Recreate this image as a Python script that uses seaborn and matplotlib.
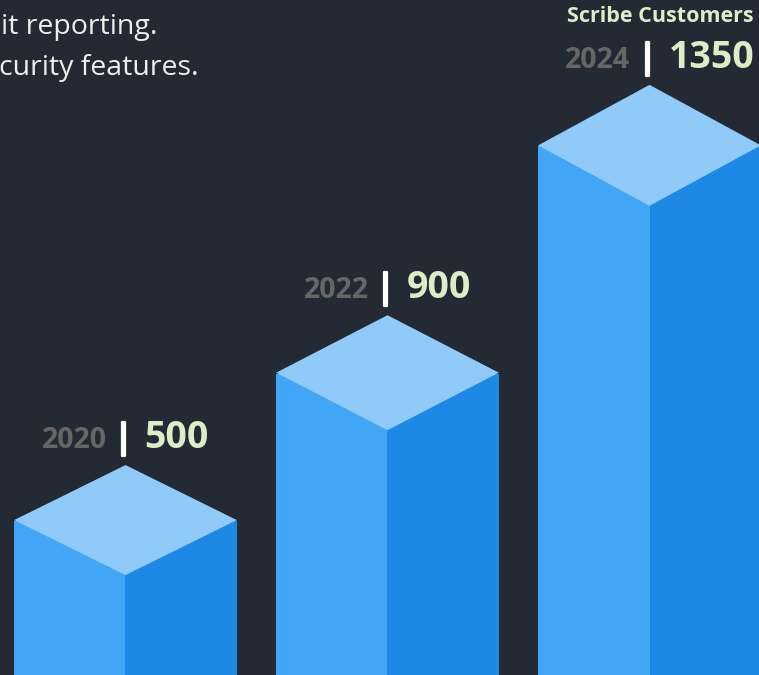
import numpy as np
import pandas as pd
import matplotlib
matplotlib.use("Agg")
import matplotlib.pyplot as plt
import matplotlib.patheffects as pe
import seaborn as sns
from matplotlib.patches import Polygon

# ---------------- data ----------------
years = ["2020", "2022", "2024"]
customers = [500, 900, 1350]
series_title = "Scribe Customers"
intro_lines = ["it reporting.", "curity features."]

# ---------------- style ----------------
BG = "#232a33"
TOP_C = "#90caf9"
LEFT_C = "#42a5f5"
RIGHT_C = "#1e88e5"
YEAR_C = "#666666"
NUM_C = "#dcedc8"
TEXT_C = "#eeeeee"

sns.set_theme(style="dark", rc={"axes.facecolor": BG, "figure.facecolor": BG})
plt.rcParams["font.family"] = ["Open Sans", "DejaVu Sans"]

W, H = 759, 675
fig = plt.figure(figsize=(W / 100, H / 100), dpi=100)
ax = fig.add_axes([0, 0, 1, 1])

# value -> pixel mapping uses a power scale
P = 1.67
K = 2.70e-3          # pixels per scaled unit
PX0 = 13.1           # pixel height of value 0 above bottom


def fwd(v):
    v = np.asarray(v, dtype=float)
    return np.sign(v) * np.abs(v) ** P


def inv(u):
    u = np.asarray(u, dtype=float)
    return np.sign(u) * np.abs(u) ** (1.0 / P)


df = pd.DataFrame({
    "year": years * 2,
    "customers": customers * 2,
    "face": ["left"] * len(years) + ["right"] * len(years),
})

BAR_W = 0.85
sns.barplot(data=df, x="year", y="customers", hue="face",
            palette={"left": LEFT_C, "right": RIGHT_C},
            width=BAR_W, gap=0, dodge=True, errorbar=None,
            saturation=1, linewidth=0, legend=False, ax=ax)

ax.set_yscale("function", functions=(fwd, inv))
y_lo = float(inv((0 - PX0) / K))
y_hi = float(inv((H - PX0) / K))
ax.set_ylim(y_lo, y_hi)
unit = 262.0
x0 = 125.5
ax.set_xlim(-x0 / unit, (W - x0) / unit)
ax.set_axis_off()
fig.patch.set_facecolor(BG)


def to_px(x, y):
    X, Y = ax.transData.transform((x, y))
    return X, H - Y


def to_data(X, Yt):
    return ax.transData.inverted().transform((X, H - Yt))


DEPTH = [55, 57.5, 60.5]

# extend each side face down past the bottom edge and up to the top face's side corners
for cont in ax.containers:
    for i, p in enumerate(cont.patches):
        val = p.get_y() + p.get_height()
        cx, F = to_px(i, val)
        top = to_data(cx, F - DEPTH[i] + 1)[1]
        p.set_y(y_lo - 50)
        p.set_height(top - (y_lo - 50))

for i, (yr, val) in enumerate(zip(years, customers)):
    cx, F = to_px(i, val)
    hw = to_px(i + BAR_W / 2, val)[0] - cx
    d = DEPTH[i]
    rhomb = [(cx, F), (cx - hw, F - d), (cx, F - 2 * d), (cx + hw, F - d)]
    ax.add_patch(Polygon([to_data(*q) for q in rhomb], closed=True,
                         facecolor=TOP_C, edgecolor="none", zorder=3))

    base_up = 2 * d + 17
    ax.annotate("|", xy=(i, val), xytext=(-2, base_up + 9), textcoords="offset pixels",
                ha="center", va="center", color="white", fontsize=25,
                fontweight="bold", annotation_clip=False,
                path_effects=[pe.withStroke(linewidth=1.6, foreground="white")])
    ax.annotate(yr, xy=(i, val), xytext=(-19, base_up), textcoords="offset pixels",
                ha="right", va="baseline", color=YEAR_C, fontsize=20.5,
                fontweight="bold", annotation_clip=False)
    ax.annotate(f"{val}", xy=(i, val), xytext=(19, base_up), textcoords="offset pixels",
                ha="left", va="baseline", color=NUM_C, fontsize=27,
                fontweight="bold", annotation_clip=False)

fig.text(660 / W, 1 - 22 / H, series_title, ha="center", va="baseline",
         color=NUM_C, fontsize=15.5, fontweight="bold")

fig.text(1 / W, 1 - 34 / H, intro_lines[0], ha="left", va="baseline",
         color=TEXT_C, fontsize=20.5)
fig.text(-1 / W, 1 - 75 / H, intro_lines[1], ha="left", va="baseline",
         color=TEXT_C, fontsize=20.5)

fig.savefig("out.png", dpi=100, facecolor=BG)
